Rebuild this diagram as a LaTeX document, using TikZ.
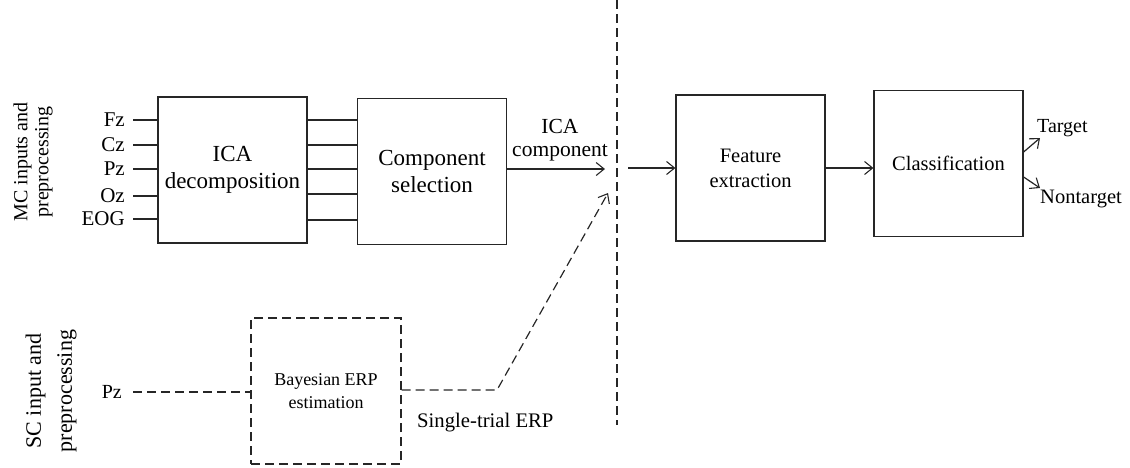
\documentclass[tikz,border=0pt]{standalone}
\usepackage{fontspec}
\setmainfont{Liberation Serif}
\usetikzlibrary{arrows.meta}
\tikzset{
  ln/.style={line width=1.2pt, draw=black!85},
  dsh/.style={dash pattern=on 9pt off 5pt},
  arr/.style={-{Straight Barb[length=8pt,width=13pt,line width=1.1pt]}},
  blk/.style={ln, draw, minimum width=149pt, minimum height=146pt, inner sep=0pt, align=center},
  fbig/.style={font=\fontsize{23}{27}\selectfont},
  fmid/.style={font=\fontsize{20.5}{25}\selectfont},
  flab/.style={font=\fontsize{21}{25}\selectfont, inner sep=0pt},
}
\begin{document}
\begin{tikzpicture}[x=1pt,y=-1pt]
\useasboundingbox (0,0) rectangle (1130,467);
% boxes
\node[blk,fbig] (ica) at (232.5,170) {ICA\\decomposition};
\node[blk,fbig] (cs) at (432,171.5) {Component\\selection};
\node[blk,fmid] (fe) at (750.5,168) {Feature\\extraction};
\node[blk,fmid] (cl) at (948.5,163.5) {Classification};
\node[blk,dsh,minimum width=150pt,minimum height=146pt,font=\fontsize{18}{23}\selectfont] (be) at (326,391) {Bayesian ERP\\estimation};
% side labels
\node[rotate=90, align=center, font=\fontsize{20}{21}\selectfont, inner sep=0pt] (mc) at (33,162) {MC inputs and\\preprocessing};
\node[rotate=90, align=center, font=\fontsize{22}{31}\selectfont, inner sep=0pt] (sc) at (51,391) {SC input and\\preprocessing};
% input labels
\node[flab, anchor=east] (fz) at (125,120) {Fz};
\node[flab, anchor=east] (cz) at (125,145) {Cz};
\node[flab, anchor=east] (pz) at (125,169) {Pz};
\node[flab, anchor=east] (oz) at (125,196) {Oz};
\node[flab, anchor=east] (eog) at (125,219) {EOG};
\node[flab, anchor=east, font=\fontsize{20}{24}\selectfont] (pzb) at (122,392) {Pz};
\foreach \n in {fz,cz,pz,oz,eog}{
  \draw[ln] ([xshift=8pt]\n.east) -- (\n.east -| ica.west);
}
% ICA -> component selection
\foreach \y in {120,145,169,194,220}{
  \draw[ln] (ica.east |- 0,\y) -- (cs.west |- 0,\y);
}
% separator
\coordinate (septop) at (617,0);
\coordinate (sepbot) at (617,425);
\draw[ln,dsh] (septop) -- (sepbot);
% ICA component arrow
\coordinate (icaend) at (605,169);
\draw[ln,arr] (cs.east |- icaend) -- (icaend);
\node[flab, align=center, font=\fontsize{21.5}{23}\selectfont] (icalab) at (560,140) {ICA\\component};
% single-channel path
\draw[ln,dsh] ([xshift=11pt]pzb.east) -- (pzb.east -| be.west);
\coordinate (bend) at (497,390);
\coordinate (stend) at (608,193);
\draw[ln,dsh,arr] (be.east |- bend) -- (bend) -- (stend);
\node[flab, anchor=west, font=\fontsize{20.7}{25}\selectfont] (stlab) at (417,423) {Single-trial ERP};
% right side
\coordinate (fein) at (628,168);
\draw[ln,arr] (fein) -- (fein -| fe.west);
\draw[ln,arr] (fe.east |- 0,168) -- (cl.west |- 0,168);
\coordinate (tgt) at (1040,138);
\coordinate (ntg) at (1040,188);
\draw[ln,arr] (cl.east |- 0,152) -- (tgt);
\draw[ln,arr] (cl.east |- 0,177) -- (ntg);
\node[flab, anchor=west, font=\fontsize{20}{24}\selectfont] (tlab) at (1037,128) {Target};
\node[flab, anchor=west, font=\fontsize{20.5}{24}\selectfont] (nlab) at (1040,199) {Nontarget};
\end{tikzpicture}
\end{document}
